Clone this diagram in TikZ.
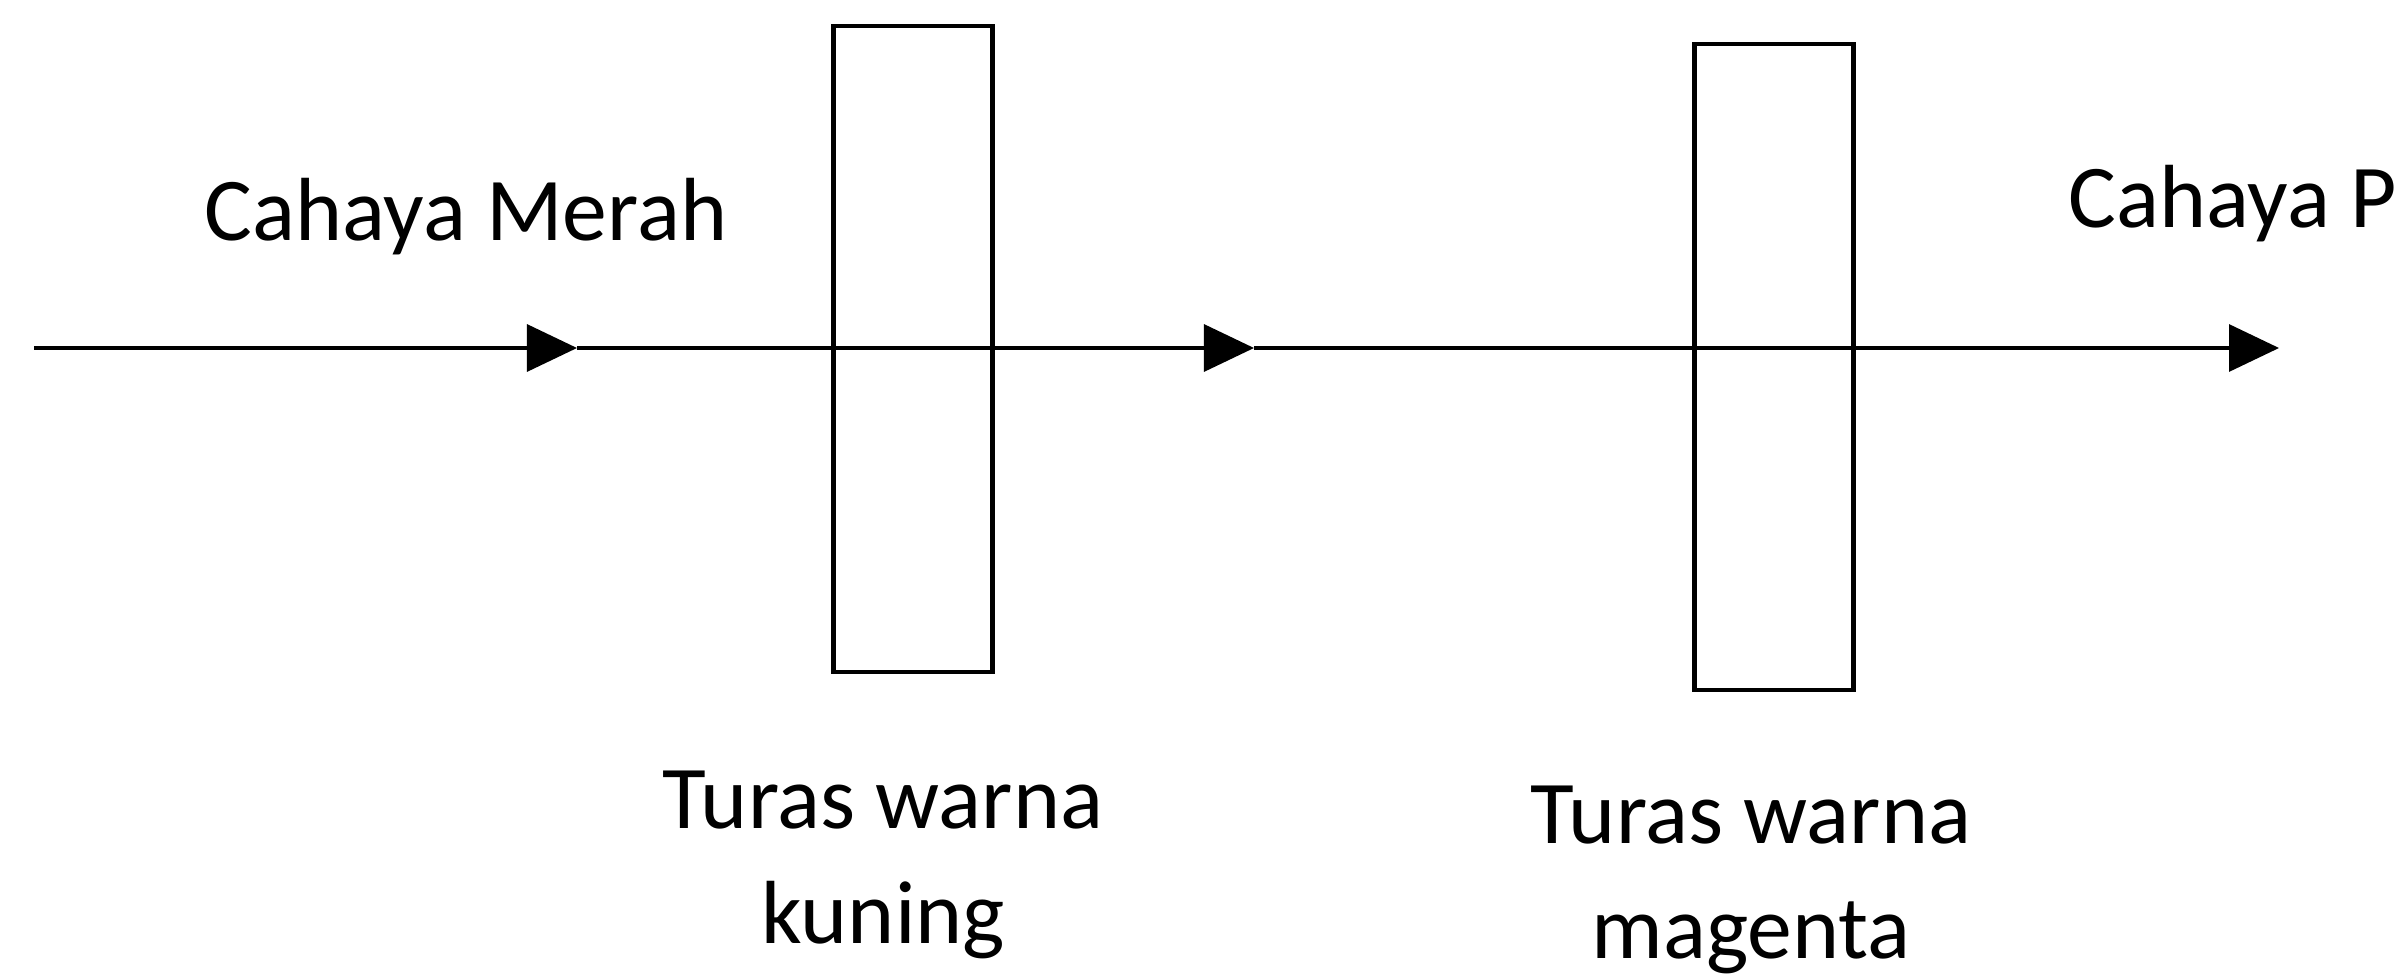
\documentclass[tikz,border=0pt]{standalone}
\usepackage{fontspec}
\setmainfont{Carlito}
\usetikzlibrary{arrows.meta, positioning}
\tikzstyle{filter} = [rectangle, draw, line width=1.2pt, minimum width=1.59cm, minimum height=6.46cm, inner sep=0pt]
\tikzstyle{ray} = [-{Triangle[length=0.5cm, width=0.47cm]}, line width=0.9pt]
\tikzstyle{txt} = [inner sep=0pt, align=center, font=\fontsize{25.5}{32.7}\selectfont]

\begin{document}
\begin{tikzpicture}[x=0.01cm, y=-0.01cm]
\useasboundingbox (0,0) rectangle (2395,976);

\node[filter] (kuning) at (913,349) {};
\node[filter] (magenta) at (1774,367) {};

\coordinate (in) at (34,348);
\coordinate (p1) at (577,348);
\coordinate (p2) at (1254,348);
\coordinate (out) at (2279,348);

\draw[ray] (in) -- (p1);
\draw[ray] (p1) -- (p2);
\draw[ray] (p2) -- (out);

\node[txt, anchor=base west] (merah) at (204,240) {Cahaya Merah};
\node[txt, anchor=base west] (putih) at (2068,227) {Cahaya P};
% base anchor sits on the last line
\node[txt, anchor=base] (tkuning) at (883,943) {Turas warna\\kuning};
\node[txt, anchor=base] (tmagenta) at (1751,958) {Turas warna\\magenta};

\end{tikzpicture}
\end{document}
